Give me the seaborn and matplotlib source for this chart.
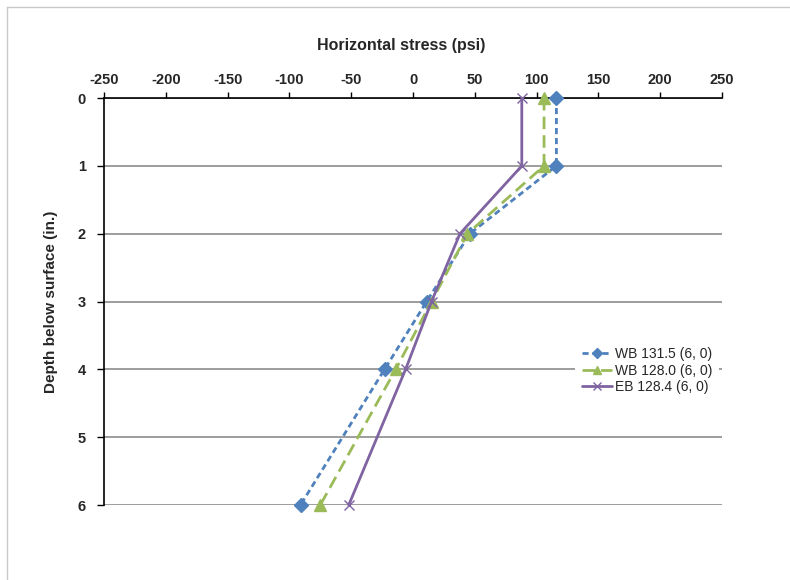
import matplotlib
matplotlib.use("Agg")
import matplotlib.pyplot as plt
from matplotlib.lines import Line2D
import seaborn as sns
import pandas as pd

# Depth below surface (in.)
depth = [0, 1, 2, 3, 4, 6]

# Horizontal stress (psi) for each gauge set
wb_1315 = [116, 116, 46, 11, -23, -91]
wb_1280 = [106, 106, 44, 15, -14, -75]
eb_1284 = [88, 88, 38, 15, -6, -52]

series_names = ["WB 131.5 (6, 0)", "WB 128.0 (6, 0)", "EB 128.4 (6, 0)"]
x_ticks = [-250, -200, -150, -100, -50, 0, 50, 100, 150, 200, 250]
y_ticks = [0, 1, 2, 3, 4, 5, 6]

sns.set_theme(style="white")
plt.rcParams["font.family"] = ["Liberation Sans", "DejaVu Sans"]
plt.rcParams["axes.unicode_minus"] = False

fig = plt.figure(figsize=(7.9, 5.8), dpi=100)
ax = fig.add_axes([0.1316, 0.1293, 0.7824, 0.7017])

styles = [
    dict(color="#4F81BD", marker="D", markersize=7, linestyle=(0, (2.2, 1.4)), lw=2.0),
    dict(color="#9BBB59", marker="^", markersize=8, linestyle=(0, (4.5, 2.2)), lw=2.0),
    dict(color="#8064A2", marker="x", markersize=7, linestyle="-", lw=2.0),
]

for name, vals, st in zip(series_names, [wb_1315, wb_1280, eb_1284], styles):
    df = pd.DataFrame({"stress": vals, "depth": depth})
    sns.lineplot(data=df, x="stress", y="depth", sort=False, estimator=None,
                 ax=ax, color=st["color"], marker=st["marker"],
                 markersize=st["markersize"], linestyle=st["linestyle"],
                 linewidth=st["lw"], markeredgecolor=st["color"],
                 markeredgewidth=1.0, label=name, zorder=3, clip_on=False)

ax.set_xlim(-250, 250)
ax.set_ylim(6, 0)
ax.set_xticks(x_ticks)
ax.set_yticks(y_ticks)
ax.xaxis.tick_top()
ax.xaxis.set_label_position("top")
ax.tick_params(axis="x", top=True, bottom=False, direction="out", length=4,
               width=1, color="black", labelsize=10.5, pad=4)
ax.tick_params(axis="y", left=True, direction="out", length=5, width=1,
               color="black", labelsize=10.5, pad=8)
for lab in ax.get_xticklabels() + ax.get_yticklabels():
    lab.set_fontweight("bold")

ax.set_xlabel("Horizontal stress (psi)", fontsize=11.5, fontweight="bold")
ax.xaxis.set_label_coords(0.481, 1.118)
ax.set_ylabel("Depth below surface (in.)", fontsize=11, fontweight="bold", labelpad=14)

# horizontal gridlines at each depth
ax.yaxis.grid(True, color="#8c8c8c", linewidth=1.2)
ax.xaxis.grid(False)
ax.set_axisbelow(True)

for side in ["right", "bottom"]:
    ax.spines[side].set_visible(False)
ax.spines["top"].set_color("black")
ax.spines["top"].set_linewidth(1.2)
ax.spines["left"].set_color("black")
ax.spines["left"].set_linewidth(1.2)

leg = ax.legend(loc="upper left", bbox_to_anchor=(0.762, 0.405), frameon=True,
                fontsize=10, handlelength=2.2, labelspacing=0.18,
                handletextpad=0.15, borderaxespad=0, borderpad=0.5,
                markerscale=0.75, fancybox=False)
leg.get_frame().set_facecolor("white")
leg.get_frame().set_edgecolor("none")
leg.get_frame().set_alpha(1.0)

# thin outer frame on the top and left edges of the figure
fig.add_artist(Line2D([7 / 790, 1.0], [1 - 7 / 580, 1 - 7 / 580],
                      transform=fig.transFigure, color="#c8c8c8", lw=1))
fig.add_artist(Line2D([7 / 790, 7 / 790], [0.0, 1 - 7 / 580],
                      transform=fig.transFigure, color="#c8c8c8", lw=1))

fig.savefig("out.png", dpi=100)
